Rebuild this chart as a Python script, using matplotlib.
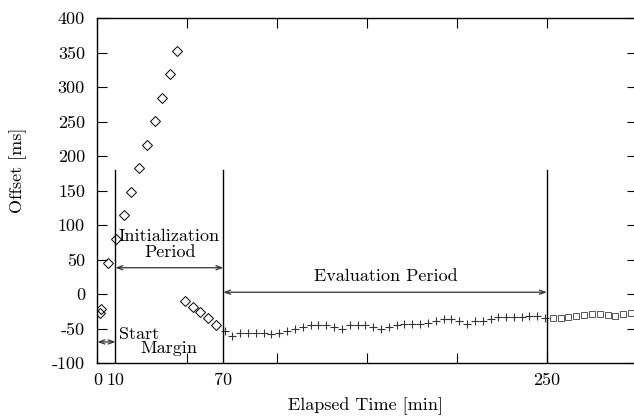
import matplotlib
matplotlib.use("Agg")
import matplotlib.pyplot as plt

plt.rcParams['font.family'] = ['cmr10', 'DejaVu Serif']
plt.rcParams['axes.unicode_minus'] = False

# offset samples before the correction kicks in (diamonds)
diamond_x = [1.4, 1.9, 6.0, 10.1, 14.6, 18.8, 23.3, 27.7, 32.0, 35.7, 40.3, 44.4,
             48.7, 53.0, 57.2, 61.4, 65.8]
diamond_y = [-27, -21, 46, 80, 115, 148, 183, 217, 251, 285, 319, 353,
             -10, -18, -26, -35, -44]

# evaluation period samples (plus)
plus_x = [70.7, 75.0, 79.4, 83.8, 88.1, 92.5, 96.8, 101.2, 105.5, 109.9,
          114.2, 118.6, 122.9, 127.3, 131.6, 136.0, 140.4, 144.7, 149.1, 153.4,
          157.8, 162.1, 166.5, 170.8, 175.2, 179.5, 183.9, 188.2, 192.6, 196.9,
          201.3, 205.6, 210.0, 214.3, 218.7, 223.0, 227.4, 231.7, 236.1, 240.4,
          244.8, 249.1]
plus_y = [-53, -61, -56, -56, -56, -56, -58, -56, -53, -50,
          -47, -45, -44, -45, -48, -50, -45, -44, -45, -47,
          -50, -47, -45, -43, -43, -43, -41, -38, -36, -36,
          -39, -43, -39, -38, -36, -33, -33, -33, -33, -31,
          -32, -35]

# after evaluation (squares)
square_x = [253.4, 257.8, 262.1, 266.5, 270.8, 275.2, 279.5, 283.9, 288.2, 292.6, 296.9]
square_y = [-34, -34, -33, -31, -30, -29, -29, -30, -31, -28, -27]

xtick_labels = [0, 10, 70, 250]
ytick_values = [-100, -50, 0, 50, 100, 150, 200, 250, 300, 350, 400]
period_bounds = [10, 70, 250]

W, H = 634, 416
fig = plt.figure(figsize=(W / 100, H / 100), dpi=100)
ax = fig.add_axes([97.5 / W, (H - 363.3) / H, 539.1 / W, 345 / H])

ax.plot(diamond_x, diamond_y, linestyle='none', marker='D', markersize=4.6,
        markerfacecolor='none', markeredgecolor='black', markeredgewidth=0.7)
ax.plot(plus_x, plus_y, linestyle='none', marker='+', markersize=6,
        color='#333333', markeredgewidth=0.8)
ax.plot(square_x, square_y, linestyle='none', marker='s', markersize=4.5,
        markerfacecolor='none', markeredgecolor='#555555', markeredgewidth=0.7)

for b in period_bounds:
    ax.plot([b, b], [-100, 180], color='black', linewidth=1.0)

arrow = dict(arrowstyle='<->,head_length=0.4,head_width=0.15', color='#333333',
             linewidth=0.9, shrinkA=0, shrinkB=0)
ax.annotate('', xy=(0, -69), xytext=(10, -69), arrowprops=arrow)
ax.annotate('', xy=(10, 38.5), xytext=(70, 38.5), arrowprops=arrow)
ax.annotate('', xy=(70, 3), xytext=(250, 3), arrowprops=arrow)

fs = 13
ax.text(40, 84.5, 'Initialization', ha='center', va='center', fontsize=fs)
ax.text(40.3, 61.3, 'Period', ha='center', va='center', fontsize=fs)
ax.text(160.3, 25.5, 'Evaluation Period', ha='center', va='center', fontsize=fs)
ax.text(23.4, -57.5, 'Start', ha='center', va='center', fontsize=fs)
ax.text(39.8, -77.8, 'Margin', ha='center', va='center', fontsize=fs)

ax.set_xlim(0, 300)
ax.set_ylim(-100, 400)

# tick marks every 50 min, labels only at the period boundaries
ax.xaxis.remove_overlapping_locs = False
ax.set_xticks(range(0, 301, 50))
ax.set_xticklabels([])
ax.set_xticks(xtick_labels, minor=True)
ax.set_xticklabels([str(v) for v in xtick_labels], minor=True)
ax.tick_params(axis='x', which='major', direction='in', length=7, width=0.8,
               top=True, bottom=True)
ax.tick_params(axis='x', which='minor', length=0, labelsize=fs, pad=7,
               top=False)

ax.set_yticks(ytick_values)
ax.set_yticklabels([str(v) for v in ytick_values])
ax.tick_params(axis='y', direction='in', length=7, width=0.8, left=True,
               right=True, labelsize=fs, pad=9)

for s in ax.spines.values():
    s.set_linewidth(1.0)

fig.text(366 / W, 1 - 406 / H, 'Elapsed Time [min]', ha='center', va='center', fontsize=fs)
fig.text(18 / W, 1 - 170 / H, 'Offset [ms]', ha='center', va='center',
         rotation=90, fontsize=fs)

fig.savefig('out.png', dpi=100)
